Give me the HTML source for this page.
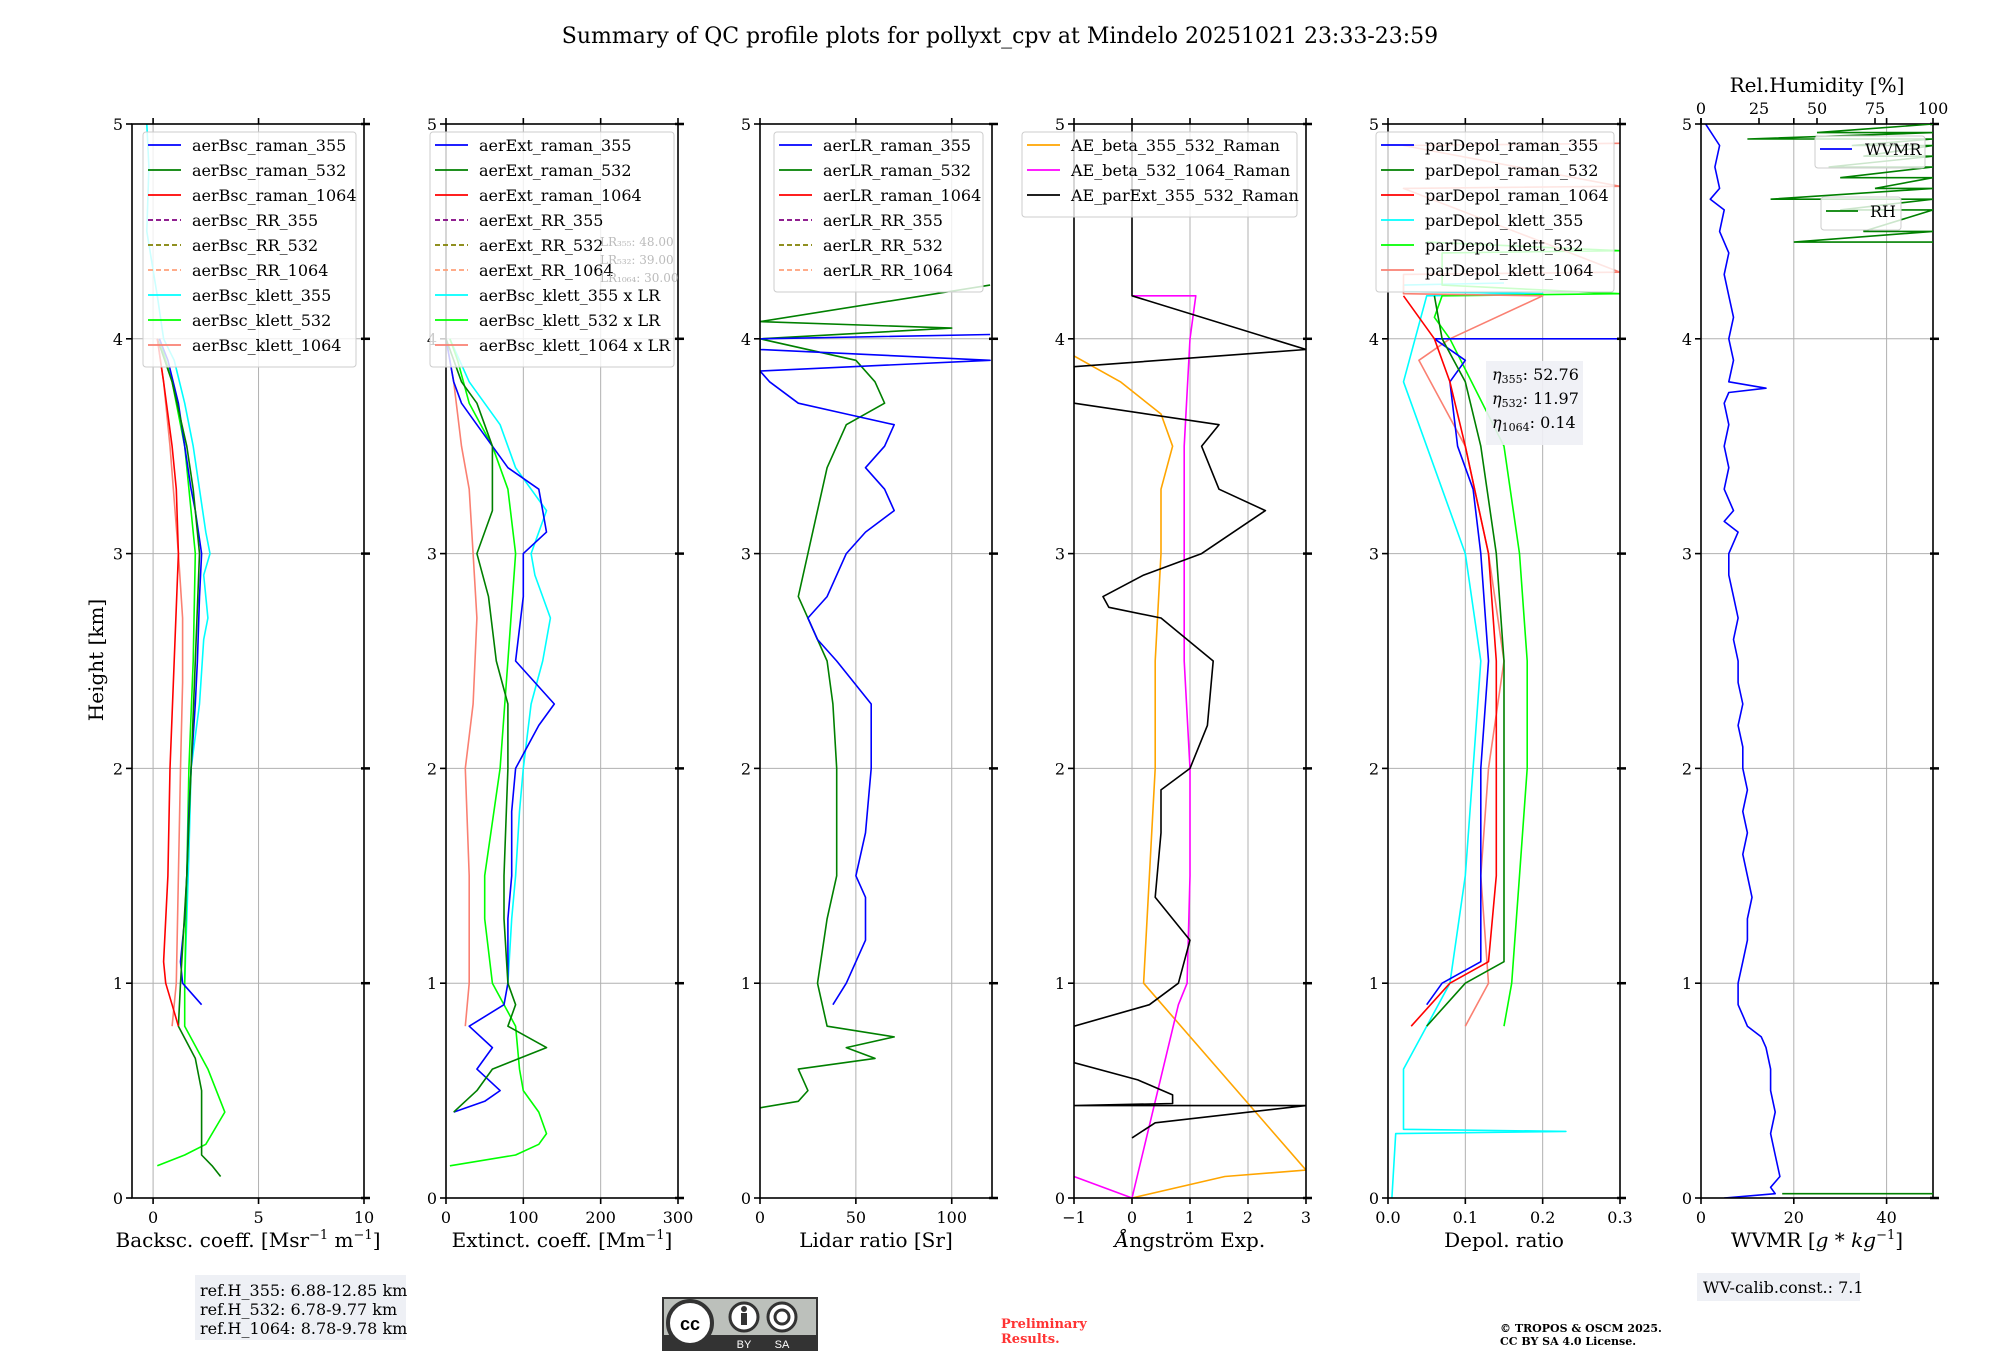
<!DOCTYPE html>
<html><head><meta charset="utf-8">
<style>
html,body{margin:0;padding:0;background:#fff;}
svg{display:block;font-family:"DejaVu Serif","Liberation Serif",serif;}
</style></head>
<body>
<svg id="fig" width="2000" height="1360" viewBox="0 0 2000 1360" xmlns="http://www.w3.org/2000/svg">
<rect width="2000" height="1360" fill="#fff"/>
<text x="1000" y="43" font-size="22" text-anchor="middle">Summary of QC profile plots for pollyxt_cpv at Mindelo 20251021 23:33-23:59</text>
<text transform="translate(103,660) rotate(-90)" font-size="20" text-anchor="middle">Height [km]</text>
<g id="plots"></g>
<g>
<rect x="195" y="1275" width="211" height="65" fill="#eef0f5"/>
<text x="200" y="1296" font-size="16">ref.H_355: 6.88-12.85 km</text>
<text x="200" y="1315" font-size="16">ref.H_532: 6.78-9.77 km</text>
<text x="200" y="1334" font-size="16">ref.H_1064: 8.78-9.78 km</text>
</g>
<g>
<rect x="662" y="1297" width="156" height="54" fill="#333"/>
<rect x="664" y="1299" width="152" height="36" fill="#bcc0bb"/>
<circle cx="690" cy="1323" r="22" fill="#fff" stroke="#333" stroke-width="4"/>
<text x="690" y="1330" font-size="18" font-weight="bold" text-anchor="middle" font-family="Liberation Sans,sans-serif">cc</text>
<circle cx="744" cy="1317" r="14" fill="#fff" stroke="#333" stroke-width="3"/>
<rect x="741" y="1313" width="6" height="12" fill="#333"/><circle cx="744" cy="1309" r="3" fill="#333"/>
<circle cx="782" cy="1317" r="14" fill="#fff" stroke="#333" stroke-width="3"/>
<circle cx="782" cy="1317" r="7" fill="none" stroke="#333" stroke-width="3"/>
<text x="744" y="1348" font-size="11" fill="#fff" text-anchor="middle" font-family="Liberation Sans,sans-serif">BY</text>
<text x="782" y="1348" font-size="11" fill="#fff" text-anchor="middle" font-family="Liberation Sans,sans-serif">SA</text>
</g>
<text x="1001" y="1328" font-size="13" font-weight="bold" fill="#ff3333">Preliminary</text>
<text x="1001" y="1343" font-size="13" font-weight="bold" fill="#ff3333">Results.</text>
<text x="1500" y="1332" font-size="11" font-weight="bold">© TROPOS &amp; OSCM 2025.</text>
<text x="1500" y="1345" font-size="11" font-weight="bold">CC BY SA 4.0 License.</text>
<g>
<rect x="1697" y="1273" width="163" height="28" fill="#eef0f5"/>
<text x="1703" y="1293" font-size="16">WV-calib.const.: 7.1</text>
</g>
</svg>
<script>
// ---------- data ----------
const bscH_r355=[0.9,1.0,1.1,1.3,1.5,1.8,2.0,2.3,2.5,2.8,3.0,3.2,3.3,3.5,3.7,3.9,4.0];
const bscV_r355=[2.3,1.4,1.3,1.5,1.6,1.7,1.8,2.0,2.1,2.2,2.3,2.0,1.8,1.5,1.2,0.7,0.3];
const bscH_r532=[0.1,0.15,0.2,0.3,0.5,0.65,0.8,1.0,1.5,2.0,2.5,3.0,3.3,3.5,3.8,4.0];
const bscV_r532=[3.2,2.8,2.3,2.3,2.3,2.0,1.2,1.3,1.6,1.8,2.0,2.2,1.9,1.6,0.9,0.2];
const bscH_r1064=[0.8,0.9,1.0,1.1,1.5,2.0,2.5,3.0,3.3,3.5,3.8,4.0];
const bscV_r1064=[1.2,0.9,0.6,0.5,0.7,0.8,1.0,1.2,1.1,0.9,0.5,0.2];
const bscH_k355=[1.0,1.3,1.6,2.0,2.3,2.6,2.7,2.9,3.0,3.1,3.3,3.5,3.7,3.9,4.0,4.2,4.5,4.8,5.0];
const bscV_k355=[1.5,1.6,1.7,1.8,2.2,2.4,2.6,2.4,2.7,2.5,2.2,1.9,1.5,1.0,0.5,0.2,-0.3,-0.2,-0.3];
const bscH_k532=[0.15,0.2,0.25,0.4,0.6,0.8,1.0,1.5,2.0,2.5,3.0,3.5,3.8,4.0];
const bscV_k532=[0.2,1.5,2.5,3.4,2.6,1.5,1.5,1.6,1.7,1.9,2.0,1.5,0.9,0.3];
const bscH_k1064=[0.8,1.0,1.5,2.0,2.4,2.7,3.0,3.5,3.8,4.0];
const bscV_k1064=[0.9,1.1,1.2,1.3,1.4,1.4,1.2,0.8,0.5,0.2];
const extH_r355=[0.4,0.45,0.5,0.6,0.7,0.8,0.9,1.0,1.3,1.5,1.8,2.0,2.2,2.3,2.5,2.8,3.0,3.1,3.2,3.3,3.4,3.6,3.7,3.8,4.0];
const extV_r355=[10,50,70,40,60,30,75,80,80,85,85,90,120,140,90,100,100,130,125,120,80,40,20,10,0];
const extH_r532=[0.4,0.5,0.6,0.7,0.8,0.9,1.0,1.3,1.5,2.0,2.3,2.5,2.8,3.0,3.2,3.5,3.7,3.8,4.0];
const extV_r532=[10,40,60,130,80,90,80,75,75,80,80,65,55,40,60,60,40,20,0];
const extH_k532=[0.15,0.2,0.25,0.3,0.4,0.5,0.6,0.8,1.0,1.3,1.5,2.0,2.5,3.0,3.3,3.5,3.7,3.9,4.0];
const extV_k532=[5,90,120,130,120,100,95,90,60,50,50,70,80,90,80,60,30,15,5];
const extH_k355=[1.0,1.3,1.5,1.8,2.0,2.3,2.5,2.7,2.9,3.0,3.2,3.4,3.6,3.8,4.0];
const extV_k355=[80,85,90,95,100,110,125,135,115,110,130,90,70,30,5];
const extH_k1064=[0.8,1.0,1.3,1.5,2.0,2.3,2.7,3.0,3.3,3.5,3.8,4.0];
const extV_k1064=[25,30,30,30,25,35,40,35,30,20,10,0];
const lrH_r355=[0.9,1.0,1.2,1.4,1.5,1.7,2.0,2.2,2.3,2.5,2.6,2.7,2.8,3.0,3.1,3.2,3.3,3.4,3.5,3.6,3.65,3.7,3.8,3.85,3.9,3.95,4.0,4.02];
const lrV_r355=[38,45,55,55,50,55,58,58,58,40,30,25,35,45,55,70,65,55,65,70,45,20,5,0,120,0,0,120];
const lrH_r532=[0.42,0.45,0.5,0.6,0.65,0.7,0.75,0.8,1.0,1.3,1.5,1.8,2.0,2.3,2.5,2.8,3.0,3.2,3.4,3.5,3.6,3.7,3.8,3.9,4.0,4.05,4.08,4.25];
const lrV_r532=[0,20,25,20,60,45,70,35,30,35,40,40,40,38,35,20,25,30,35,40,45,65,60,50,0,100,0,120];
const aeH_b355=[0.0,0.1,0.13,1.0,1.5,2.0,2.5,3.0,3.3,3.5,3.65,3.8,3.92];
const aeV_b355=[0.0,1.6,3.0,0.2,0.3,0.4,0.4,0.5,0.5,0.7,0.5,-0.2,-1.0];
const aeH_b532=[0.1,0.0,0.9,1.0,1.5,2.0,2.5,3.0,3.5,4.0,4.2,4.2];
const aeV_b532=[-1.0,0.0,0.8,0.95,1.0,1.0,0.9,0.9,0.9,1.0,1.1,0.0];
const aeH_ext=[0.28,0.35,0.43,0.43,0.44,0.48,0.55,0.63,0.8,0.9,1.0,1.2,1.4,1.7,1.9,2.0,2.2,2.5,2.7,2.75,2.8,2.9,3.0,3.2,3.3,3.5,3.6,3.7,3.87,3.95,4.2,5.0];
const aeV_ext=[0.0,0.4,3.0,-1.0,0.7,0.7,0.1,-1.0,-1.0,0.3,0.8,1.0,0.4,0.5,0.5,1.0,1.3,1.4,0.5,-0.4,-0.5,0.2,1.2,2.3,1.5,1.2,1.5,-1.0,-1.0,3.0,0.0,0.0];
const dpH_r355=[0.9,1.0,1.1,1.3,1.5,2.0,2.5,3.0,3.3,3.5,3.8,3.9,4.0,4.0];
const dpV_r355=[0.05,0.07,0.12,0.12,0.12,0.12,0.13,0.12,0.11,0.09,0.08,0.1,0.06,0.3];
const dpH_r532=[0.8,1.0,1.1,1.5,2.0,2.5,3.0,3.5,3.8,4.0,4.2];
const dpV_r532=[0.05,0.1,0.15,0.15,0.15,0.15,0.14,0.12,0.1,0.07,0.06];
const dpH_r1064=[0.8,1.0,1.1,1.5,2.0,2.5,3.0,3.5,3.8,4.0,4.2];
const dpV_r1064=[0.03,0.08,0.13,0.14,0.14,0.14,0.13,0.1,0.08,0.06,0.02];
const dpH_k355=[0.0,0.3,0.31,0.32,0.6,0.8,1.0,1.5,2.0,2.5,3.0,3.5,3.8,4.2,4.21,4.22,4.25,4.26];
const dpV_k355=[0.005,0.01,0.23,0.02,0.02,0.05,0.08,0.1,0.11,0.12,0.1,0.05,0.02,0.05,0.2,0.02,0.02,0.15];
const dpH_k532=[0.8,1.0,1.5,2.0,2.5,3.0,3.5,4.0,4.1,4.2,4.21,4.25,4.4,4.41,4.45];
const dpV_k532=[0.15,0.16,0.17,0.18,0.18,0.17,0.15,0.08,0.06,0.07,0.3,0.07,0.07,0.3,0.05];
const dpH_k1064=[0.8,1.0,1.5,2.0,2.5,3.0,3.5,3.9,4.0,4.2,4.21,4.3,4.31,4.7,4.71,4.9,4.91];
const dpV_k1064=[0.1,0.13,0.12,0.13,0.15,0.13,0.1,0.04,0.08,0.2,0.02,0.02,0.3,0.02,0.3,0.02,0.3];
const wvH=[0.0,0.02,0.05,0.1,0.2,0.3,0.4,0.5,0.6,0.7,0.75,0.8,0.85,0.9,1.0,1.1,1.2,1.3,1.4,1.5,1.6,1.7,1.8,1.9,2.0,2.1,2.2,2.3,2.4,2.5,2.6,2.7,2.8,2.9,3.0,3.1,3.15,3.2,3.3,3.4,3.5,3.6,3.7,3.75,3.77,3.8,3.9,4.0,4.1,4.2,4.3,4.4,4.5,4.6,4.65,4.7,4.8,4.9,5.0];
const wvV=[5,16,15,17,16,15,16,15,15,14,13,10,9,8,8,9,10,10,11,10,9,10,9,10,9,9,8,9,8,8,7,8,7,6,6,8,5,7,5,6,5,6,5,6,14,6,7,6,7,6,5,6,4,5,2,4,3,4,1];
const rhH_low=[0.02,0.02];
const rhV_low=[35,100];
const rhH_top=[4.45,4.45,4.5,4.5,4.6,4.6,4.65,4.65,4.7,4.7,4.75,4.75,4.8,4.8,4.85,4.85,4.9,4.9,4.93,4.93,4.96,4.96,5.0];
const rhV_top=[100,40,100,70,100,60,100,30,100,75,100,60,100,55,100,70,100,65,100,20,100,50,100];

// ---------- drawing ----------
const NS="http://www.w3.org/2000/svg";
const plots=document.getElementById('plots');
const TOP=124,BOT=1198;
function yS(h){return BOT-(h/5)*(BOT-TOP);}
function mk(tag,attrs,parent){const e=document.createElementNS(NS,tag);for(const k in attrs)e.setAttribute(k,attrs[k]);(parent||plots).appendChild(e);return e;}

function panel(p){
  const L=p.left,R=p.left+232;
  const xS=v=>L+(v-p.xmin)/(p.xmax-p.xmin)*(R-L);
  const g=mk('g',{});
  
  
  const clipId='c'+p.left;
  const cp=mk('clipPath',{id:clipId},g);mk('rect',{x:L,y:TOP,width:R-L,height:BOT-TOP},cp);
  p.xt.forEach(t=>{const x=xS(t);const gl=mk('line',{x1:x,x2:x,y1:TOP,y2:BOT,stroke:'#b0b0b0','stroke-width':1},g);});
  for(let k=0;k<=5;k++){const y=yS(k);const gl=mk('line',{x1:L,x2:R,y1:y,y2:y,stroke:'#b0b0b0','stroke-width':1},g);}
  const sg=mk('g',{'clip-path':'url(#'+clipId+')'},g);
  p.series.forEach(s=>{
    const pts=s.h.map((h,i)=>xS(s.v[i]).toFixed(1)+','+yS(h).toFixed(1)).join(' ');
    const pl=mk('polyline',{points:pts,fill:'none',stroke:s.c,'stroke-width':1.6,'stroke-linejoin':'round'},sg);
    
    
  });
  const fr=mk('rect',{x:L,y:TOP,width:R-L,height:BOT-TOP,fill:'none',stroke:'#000','stroke-width':1.6},g);
  
  
  p.xt.forEach((t,i)=>{const x=xS(t);mk('line',{x1:x,x2:x,y1:BOT,y2:BOT+6,stroke:'#000','stroke-width':1.6},g);
    mk('line',{x1:x,x2:x,y1:TOP,y2:TOP-6,stroke:'#000','stroke-width':1.6},g);
    const tl=mk('text',{x:x,y:BOT+25,'font-size':16,'text-anchor':'middle'},g);tl.textContent=p.xl[i];
    });
  for(let k=0;k<=5;k++){const y=yS(k);mk('line',{x1:L-6,x2:L,y1:y,y2:y,stroke:'#000','stroke-width':1.6},g);
    mk('line',{x1:R-3,x2:R+6,y1:y,y2:y,stroke:'#000','stroke-width':2.5},g);
    const tl=mk('text',{x:L-9,y:y+6,'font-size':16,'text-anchor':'end'},g);tl.textContent=String(k);
    }
  const xl=mk('text',{x:(L+R)/2,y:1247,'font-size':20,'text-anchor':'middle'},g);
  xl.innerHTML=p.label;
  
  
  if(p.legend){
    const lg=mk('g',{},g);
    
    
    const n=p.legend.length;
    mk('rect',{x:p.lx,y:132,width:p.lw,height:n*25+10,rx:3,fill:'#fff','fill-opacity':0.8,stroke:'#ccc'},lg);
    p.legend.forEach((e,i)=>{const y=145+i*25;
      mk('line',{x1:p.lx+5,x2:p.lx+38,y1:y,y2:y,stroke:e.c,'stroke-width':1.8,'stroke-dasharray':e.d?'5,3':'none'},lg);
      const t=mk('text',{x:p.lx+49,y:y+6,'font-size':16},lg);t.textContent=e.n;
      });
  }
  return {xS,L,R,g};
}

const RR=[{n:'RR_355',c:'#800080',d:1},{n:'RR_532',c:'#808000',d:1},{n:'RR_1064',c:'#ffa07a',d:1}];
function leg(pre,extra){
  const base=[{n:pre+'raman_355',c:'#0000ff'},{n:pre+'raman_532',c:'#008000'},{n:pre+'raman_1064',c:'#ff0000'}];
  return base.concat(RR.map(r=>({n:pre+r.n,c:r.c,d:1}))).concat(extra);
}

panel({name:'backscatter-panel',left:132,xmin:-1,xmax:10,xt:[0,5,10],xl:['0','5','10'],
 label:'Backsc. coeff. [Msr<tspan dy="-8" font-size="13">−1</tspan><tspan dy="8"> m</tspan><tspan dy="-8" font-size="13">−1</tspan><tspan dy="8">]</tspan>',
 series:[{n:'bsc-klett-355',h:bscH_k355,v:bscV_k355,c:'#00ffff'},{n:'bsc-klett-532',h:bscH_k532,v:bscV_k532,c:'#00ff00'},{n:'bsc-klett-1064',h:bscH_k1064,v:bscV_k1064,c:'#fa8072'},
  {n:'bsc-raman-355',h:bscH_r355,v:bscV_r355,c:'#0000ff'},{n:'bsc-raman-532',h:bscH_r532,v:bscV_r532,c:'#008000'},{n:'bsc-raman-1064',h:bscH_r1064,v:bscV_r1064,c:'#ff0000'}],
 legend:leg('aerBsc_',[{n:'aerBsc_klett_355',c:'#00ffff'},{n:'aerBsc_klett_532',c:'#00ff00'},{n:'aerBsc_klett_1064',c:'#fa8072'}]),lx:143,lw:213});

panel({name:'extinction-panel',left:446,xmin:0,xmax:300,xt:[0,100,200,300],xl:['0','100','200','300'],
 label:'Extinct. coeff. [Mm<tspan dy="-8" font-size="13">−1</tspan><tspan dy="8">]</tspan>',
 series:[{n:'ext-klett-355',h:extH_k355,v:extV_k355,c:'#00ffff'},{n:'ext-klett-532',h:extH_k532,v:extV_k532,c:'#00ff00'},{n:'ext-klett-1064',h:extH_k1064,v:extV_k1064,c:'#fa8072'},
  {n:'ext-raman-355',h:extH_r355,v:extV_r355,c:'#0000ff'},{n:'ext-raman-532',h:extH_r532,v:extV_r532,c:'#008000'}],
 legend:leg('aerExt_',[{n:'aerBsc_klett_355 x LR',c:'#00ffff'},{n:'aerBsc_klett_532 x LR',c:'#00ff00'},{n:'aerBsc_klett_1064 x LR',c:'#fa8072'}]),lx:430,lw:244});
['LR₃₅₅: 48.00','LR₅₃₂: 39.00','LR₁₀₆₄: 30.00'].forEach((s,i)=>{const t=mk('text',{x:600,y:246+i*18,'font-size':12,fill:'#bbb'});t.textContent=s;
 });

panel({name:'lidar-ratio-panel',left:760,xmin:0,xmax:121,xt:[0,50,100],xl:['0','50','100'],label:'Lidar ratio [Sr]',
 series:[{n:'lr-raman-532',h:lrH_r532,v:lrV_r532,c:'#008000'},{n:'lr-raman-355',h:lrH_r355,v:lrV_r355,c:'#0000ff'}],
 legend:leg('aerLR_',[]),lx:774,lw:209});

panel({name:'angstrom-panel',left:1074,xmin:-1,xmax:3,xt:[-1,0,1,2,3],xl:['−1','0','1','2','3'],label:'<tspan font-style="italic">Å</tspan>ngström Exp.',
 series:[{n:'ae-beta-355-532',h:aeH_b355,v:aeV_b355,c:'#ffa500'},{n:'ae-beta-532-1064',h:aeH_b532,v:aeV_b532,c:'#ff00ff'},{n:'ae-parext-355-532',h:aeH_ext,v:aeV_ext,c:'#000000'}],
 legend:[{n:'AE_beta_355_532_Raman',c:'#ffa500'},{n:'AE_beta_532_1064_Raman',c:'#ff00ff'},{n:'AE_parExt_355_532_Raman',c:'#000000'}],lx:1022,lw:275});

panel({name:'depol-panel',left:1388,xmin:0,xmax:0.3,xt:[0,0.1,0.2,0.3],xl:['0.0','0.1','0.2','0.3'],label:'Depol. ratio',
 series:[{n:'pdr-klett-355',h:dpH_k355,v:dpV_k355,c:'#00ffff'},{n:'pdr-klett-532',h:dpH_k532,v:dpV_k532,c:'#00ff00'},{n:'pdr-klett-1064',h:dpH_k1064,v:dpV_k1064,c:'#fa8072'},
  {n:'pdr-raman-355',h:dpH_r355,v:dpV_r355,c:'#0000ff'},{n:'pdr-raman-532',h:dpH_r532,v:dpV_r532,c:'#008000'},{n:'pdr-raman-1064',h:dpH_r1064,v:dpV_r1064,c:'#ff0000'}],
 legend:[{n:'parDepol_raman_355',c:'#0000ff'},{n:'parDepol_raman_532',c:'#008000'},{n:'parDepol_raman_1064',c:'#ff0000'},{n:'parDepol_klett_355',c:'#00ffff'},{n:'parDepol_klett_532',c:'#00ff00'},{n:'parDepol_klett_1064',c:'#fa8072'}],lx:1376,lw:238});
(function(){const g=mk('g',{});
 mk('rect',{x:1486,y:361,width:97,height:84,fill:'#eef0f5','fill-opacity':0.9},g);
 [['355','52.76'],['532','11.97'],['1064','0.14']].forEach((a,i)=>{const t=mk('text',{x:1492,y:380+i*24,'font-size':16},g);
 t.innerHTML='<tspan font-style="italic">η</tspan><tspan font-size="11" dy="3">'+a[0]+'</tspan><tspan dy="-3">: '+a[1]+'</tspan>';});})();

panel({name:'water-vapor-panel',left:1701,xmin:0,xmax:50,xt:[0,20,40],xl:['0','20','40'],
 label:'WVMR [<tspan font-style="italic">g</tspan> * <tspan font-style="italic">kg</tspan><tspan dy="-8" font-size="13">−1</tspan><tspan dy="8">]</tspan>',
 series:[{n:'wvmr-line',h:wvH,v:wvV,c:'#0000ff'}]});
(function(){const L=1701,R=1933;const xR=v=>L+v/100*(R-L);
 const cp=mk('clipPath',{id:'crh'});mk('rect',{x:L,y:TOP,width:R-L,height:BOT-TOP},cp);
 [[rhH_low,rhV_low],[rhH_top,rhV_top]].forEach(a=>{
  const pl=mk('polyline',{points:a[0].map((h,i)=>xR(a[1][i]).toFixed(1)+','+yS(h).toFixed(1)).join(' '),fill:'none',stroke:'#008000','stroke-width':1.6,'clip-path':'url(#crh)'});
  
  
 });
 [0,25,50,75,100].forEach(t=>{const x=xR(t);mk('line',{x1:x,x2:x,y1:TOP,y2:TOP-6,stroke:'#000','stroke-width':1.6});
  const tl=mk('text',{x:x,y:TOP-10,'font-size':16,'text-anchor':'middle'});tl.textContent=String(t);
  });
 const tt=mk('text',{x:(L+R)/2,y:92,'font-size':20,'text-anchor':'middle'});tt.textContent='Rel.Humidity [%]';
 
 const l1=mk('g',{});
 mk('rect',{x:1815,y:136,width:110,height:32,rx:3,fill:'#fff','fill-opacity':0.8,stroke:'#ccc'},l1);
 mk('line',{x1:1820,x2:1852,y1:149,y2:149,stroke:'#0000ff','stroke-width':1.8},l1);
 const t1=mk('text',{x:1865,y:155,'font-size':16},l1);t1.textContent='WVMR';
 const l2=mk('g',{});
 mk('rect',{x:1821,y:197,width:80,height:33,rx:3,fill:'#fff','fill-opacity':0.8,stroke:'#ccc'},l2);
 mk('line',{x1:1826,x2:1858,y1:211,y2:211,stroke:'#008000','stroke-width':1.8},l2);
 const t2=mk('text',{x:1870,y:217,'font-size':16},l2);t2.textContent='RH';
})();
</script>
</body></html>
